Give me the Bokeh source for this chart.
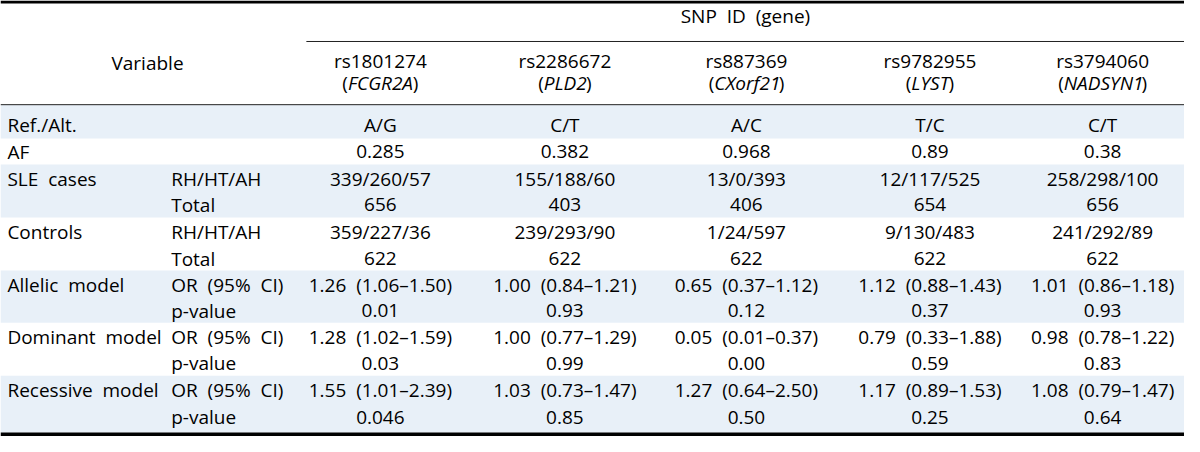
from bokeh.plotting import figure
from bokeh.models import Range1d, ColumnDataSource
from bokeh.core.properties import value
from bokeh.embed import file_html
from bokeh.resources import INLINE

# ---------------- data ----------------
snp_ids = ["rs1801274", "rs2286672", "rs887369", "rs9782955", "rs3794060"]
genes = ["FCGR2A", "PLD2", "CXorf21", "LYST", "NADSYN1"]
ref_alt = ["A/G", "C/T", "A/C", "T/C", "C/T"]
af = ["0.285", "0.382", "0.968", "0.89", "0.38"]
sle_genotypes = ["339/260/57", "155/188/60", "13/0/393", "12/117/525", "258/298/100"]
sle_total = ["656", "403", "406", "654", "656"]
ctrl_genotypes = ["359/227/36", "239/293/90", "1/24/597", "9/130/483", "241/292/89"]
ctrl_total = ["622", "622", "622", "622", "622"]
allelic_or = ["1.26", "1.00", "0.65", "1.12", "1.01"]
allelic_ci = ["(1.06–1.50)", "(0.84–1.21)", "(0.37–1.12)", "(0.88–1.43)", "(0.86–1.18)"]
allelic_p = ["0.01", "0.93", "0.12", "0.37", "0.93"]
dominant_or = ["1.28", "1.00", "0.05", "0.79", "0.98"]
dominant_ci = ["(1.02–1.59)", "(0.77–1.29)", "(0.01–0.37)", "(0.33–1.88)", "(0.78–1.22)"]
dominant_p = ["0.03", "0.99", "0.00", "0.59", "0.83"]
recessive_or = ["1.55", "1.03", "1.27", "1.17", "1.08"]
recessive_ci = ["(1.01–2.39)", "(0.73–1.47)", "(0.64–2.50)", "(0.89–1.53)", "(0.79–1.47)"]
recessive_p = ["0.046", "0.85", "0.50", "0.25", "0.64"]

SP = "\u00a0\u00a0"
group_labels = ["Ref./Alt.", "AF", "SLE" + SP + "cases", "", "Controls", "",
                "Allelic" + SP + "model", "", "Dominant" + SP + "model", "",
                "Recessive" + SP + "model", ""]
sub_labels = ["", "", "RH/HT/AH", "Total", "RH/HT/AH", "Total",
              "OR" + SP + "(95%" + SP + "CI)", "p-value", "OR" + SP + "(95%" + SP + "CI)", "p-value",
              "OR" + SP + "(95%" + SP + "CI)", "p-value"]

# ---------------- layout (reference pixel coordinates) ----------------
W, H = 1184, 436
col_x = [385, 572, 756, 942, 1117]
row_y = [129.5, 157, 185, 212, 240, 267.5, 294.5, 321.5, 349, 376, 404, 432]
bands = [(108, 143), (170, 225), (280, 334), (389, 448)]
FONT = "Open Sans"
FS = "19px"
SHADE = "#E8F0F8"

p = figure(width=W, height=H, output_backend="svg", toolbar_location=None,
           x_range=Range1d(0, 1200), y_range=Range1d(452, 0),
           min_border=0, outline_line_color=None)
p.axis.visible = False
p.grid.visible = False
p.background_fill_color = "white"
p.border_fill_color = "white"

# shaded bands
p.quad(left=[0] * len(bands), right=[1200] * len(bands),
       top=[b[0] for b in bands], bottom=[b[1] for b in bands],
       fill_color=SHADE, line_color=None)

# rules
p.segment(x0=[0], y0=[1.5], x1=[1200], y1=[1.5], line_color="#000000", line_width=3)
p.segment(x0=[310], y0=[42.5], x1=[1200], y1=[42.5], line_color="#222222", line_width=1)
p.segment(x0=[0], y0=[108], x1=[1200], y1=[108], line_color="#222222", line_width=1)
p.segment(x0=[0], y0=[450], x1=[1200], y1=[450], line_color="#000000", line_width=4)

def txt(xs, ys, texts, align="center", style="normal", x_offset=0):
    src = ColumnDataSource(dict(x=xs, y=ys, t=texts))
    p.text(x="x", y="y", text="t", source=src, text_align=align,
           text_baseline="middle", text_font=value(FONT), text_font_size=FS,
           text_font_style=style, text_color="#000000", x_offset=x_offset)

# header
txt([755], [16], ["SNP" + SP + "ID" + SP + "(gene)"])
txt([149], [65], ["Variable"])
txt(col_x, [63] * 5, snp_ids)

# gene names: "(" + italic gene + ")"
adv = {"(": 0.29, ")": 0.29, "A": 0.58, "C": 0.58, "D": 0.66, "F": 0.48, "G": 0.66,
       "L": 0.47, "N": 0.67, "P": 0.55, "R": 0.57, "S": 0.50, "T": 0.50, "X": 0.52,
       "Y": 0.49, "1": 0.52, "2": 0.55, "o": 0.55, "r": 0.37, "f": 0.30}
fs_px = float(FS.replace("px", ""))
def wpx(s):
    return sum(adv.get(c, 0.56) for c in s) * fs_px

for i, g in enumerate(genes):
    total = wpx("(") + wpx(g) + wpx(")")
    start = -total / 2
    txt([col_x[i]], [86], ["("], align="left", x_offset=start)
    txt([col_x[i]], [86], [g], align="left", style="italic", x_offset=start + wpx("("))
    txt([col_x[i]], [86], [")"], align="left", x_offset=start + wpx("(") + wpx(g))

# left labels
txt([7] * len(group_labels), row_y, group_labels, align="left")
txt([173] * len(sub_labels), row_y, sub_labels, align="left")

def joined(a, b):
    return [f"{u}{SP}{v}" for u, v in zip(a, b)]

rows = [ref_alt, af, sle_genotypes, sle_total, ctrl_genotypes, ctrl_total,
        joined(allelic_or, allelic_ci), allelic_p,
        joined(dominant_or, dominant_ci), dominant_p,
        joined(recessive_or, recessive_ci), recessive_p]
for ry, vals in zip(row_y, rows):
    txt(col_x, [ry] * 5, vals)

open("out.html", "w").write(file_html(p, INLINE))
